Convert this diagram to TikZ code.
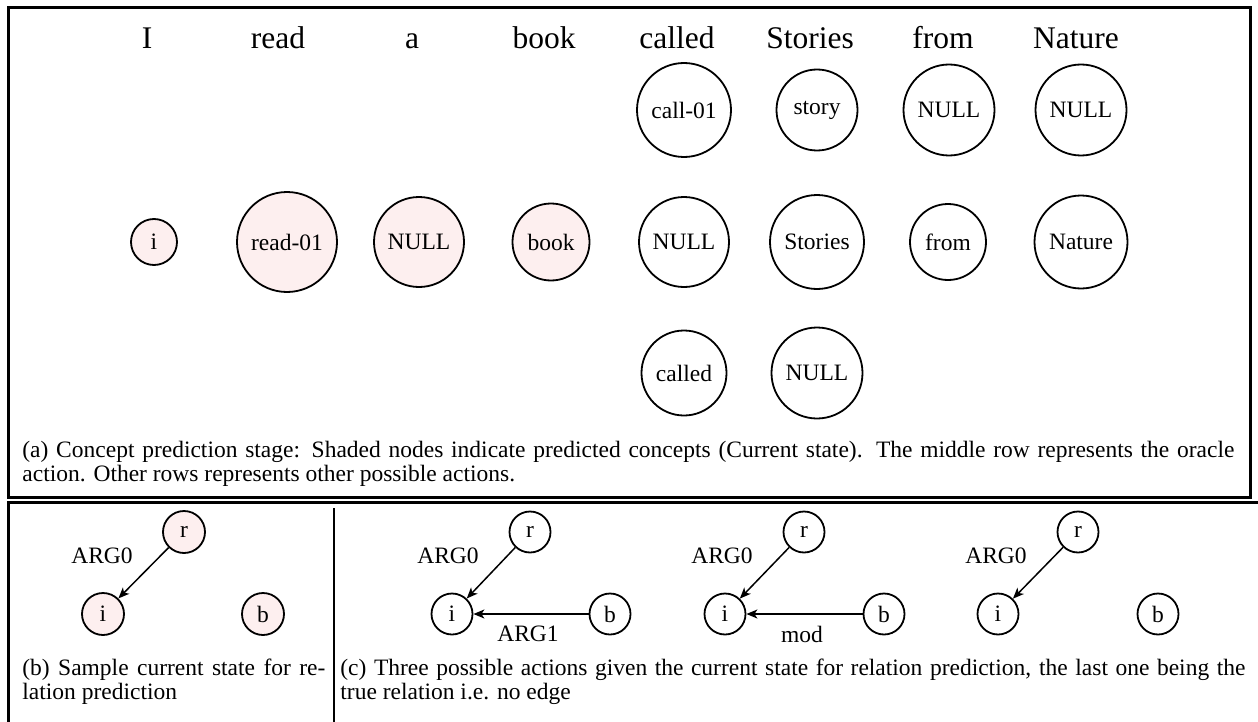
\documentclass[tikz,border=0pt]{standalone}
\usepackage{fontspec}
\setmainfont{Liberation Serif}
\usetikzlibrary{arrows.meta}
\definecolor{pinkfill}{RGB}{253,239,239}
\tikzset{
  word/.style={anchor=base, inner sep=0pt, font=\fontsize{15.75pt}{18pt}\selectfont},
  cnode/.style={circle, draw, line width=0.9pt, inner sep=0pt, font=\fontsize{11.75pt}{13pt}\selectfont},
  shaded/.style={cnode, fill=pinkfill},
  elabel/.style={inner sep=0pt, font=\fontsize{11.75pt}{13pt}\selectfont},
  arr/.style={-{Stealth[length=5.5pt,width=4.5pt,inset=1.5pt]}, line width=0.75pt},
  frame/.style={line width=1.5pt},
  capt/.style={anchor=base west, inner sep=0pt, align=justify, font=\fontsize{11.75pt}{12pt}\selectfont}
}
\begin{document}
\begin{tikzpicture}[x=0.5pt, y=-0.5pt]
\useasboundingbox (0,0) rectangle (1258,722);
% frames
\draw[frame] (8,8) rectangle (1250,497);
\draw[frame] (1258,502) -- (8,502) -- (8,722);
\draw[line width=1pt] (334,508) -- (334,722);
% words
\node[word] (w1) at (147,49) {I};
\node[word] (w2) at (278,49) {read};
\node[word] (w3) at (412,49) {a};
\node[word] (w4) at (544,49) {book};
\node[word] (w5) at (677,49) {called};
\node[word] (w6) at (810,49) {Stories};
\node[word] (w7) at (943,49) {from};
\node[word] (w8) at (1076,49) {Nature};
% row 1
\node[cnode, minimum size=47pt] (t5) at (684,110) {call-01};
\node[cnode, minimum size=40.5pt] (t6) at (817,110) {story};
\node[cnode, minimum size=45.5pt] (t7) at (949,110) {NULL};
\node[cnode, minimum size=45.5pt] (t8) at (1081,110) {NULL};
% row 2
\node[shaded, minimum size=23pt] (m1) at (154,242) {i};
\node[shaded, minimum size=50pt] (m2) at (287,242) {read-01};
\node[shaded, minimum size=45pt] (m3) at (419,242) {NULL};
\node[shaded, minimum size=38.5pt] (m4) at (551,242) {book};
\node[cnode, minimum size=45pt] (m5) at (684,242) {NULL};
\node[cnode, minimum size=47pt] (m6) at (817,242) {Stories};
\node[cnode, minimum size=38pt] (m7) at (948,242) {from};
\node[cnode, minimum size=46.5pt] (m8) at (1081,242) {Nature};
% row 3
\node[cnode, minimum size=42.5pt] (b5) at (684,373) {called};
\node[cnode, minimum size=45.5pt] (b6) at (817,373) {NULL};
% caption a
\node[capt, text width=606pt] (capa) at (22,457) {(a) Concept prediction stage: Shaded nodes indicate predicted concepts (Current state). The middle row represents the oracle\linebreak action. Other rows represents other possible actions.};
% panel b
\node[shaded, minimum size=21pt] (pr) at (184,532) {r};
\node[shaded, minimum size=21pt] (pi) at (103,614) {i};
\node[shaded, minimum size=21pt] (pb) at (263,614) {b};
\node[elabel] (pl) at (102,556) {ARG0};
\draw[arr] (pr) -- (pi);
\node[capt, text width=151.5pt] (capb) at (22,675) {(b) Sample current state for re-\linebreak lation prediction};
% panel c1
\node[cnode, minimum size=20.5pt] (ar) at (530,532) {r};
\node[cnode, minimum size=20.5pt] (ai) at (452,614) {i};
\node[cnode, minimum size=20.5pt] (ab) at (610,614) {b};
\node[elabel] (al0) at (448,556) {ARG0};
\node[elabel] (al1) at (528,634) {ARG1};
\draw[arr] (ar) -- (ai);
\draw[arr] (ab) -- (ai);
% panel c2
\node[cnode, minimum size=20.5pt] (br) at (804,532) {r};
\node[cnode, minimum size=20.5pt] (bi) at (725,614) {i};
\node[cnode, minimum size=20.5pt] (bb) at (884,614) {b};
\node[elabel] (bl0) at (722,556) {ARG0};
\node[elabel] (bl1) at (802,634) {mod};
\draw[arr] (br) -- (bi);
\draw[arr] (bb) -- (bi);
% panel c3
\node[cnode, minimum size=20.5pt] (cr) at (1078,532) {r};
\node[cnode, minimum size=20.5pt] (ci) at (998,614) {i};
\node[cnode, minimum size=20.5pt] (cb) at (1158,614) {b};
\node[elabel] (cl0) at (996,556) {ARG0};
\draw[arr] (cr) -- (ci);
\node[capt, text width=452.5pt] (capc) at (340,675) {(c) Three possible actions given the current state for relation prediction, the last one being the\linebreak true relation i.e. no edge};
\end{tikzpicture}
\end{document}
